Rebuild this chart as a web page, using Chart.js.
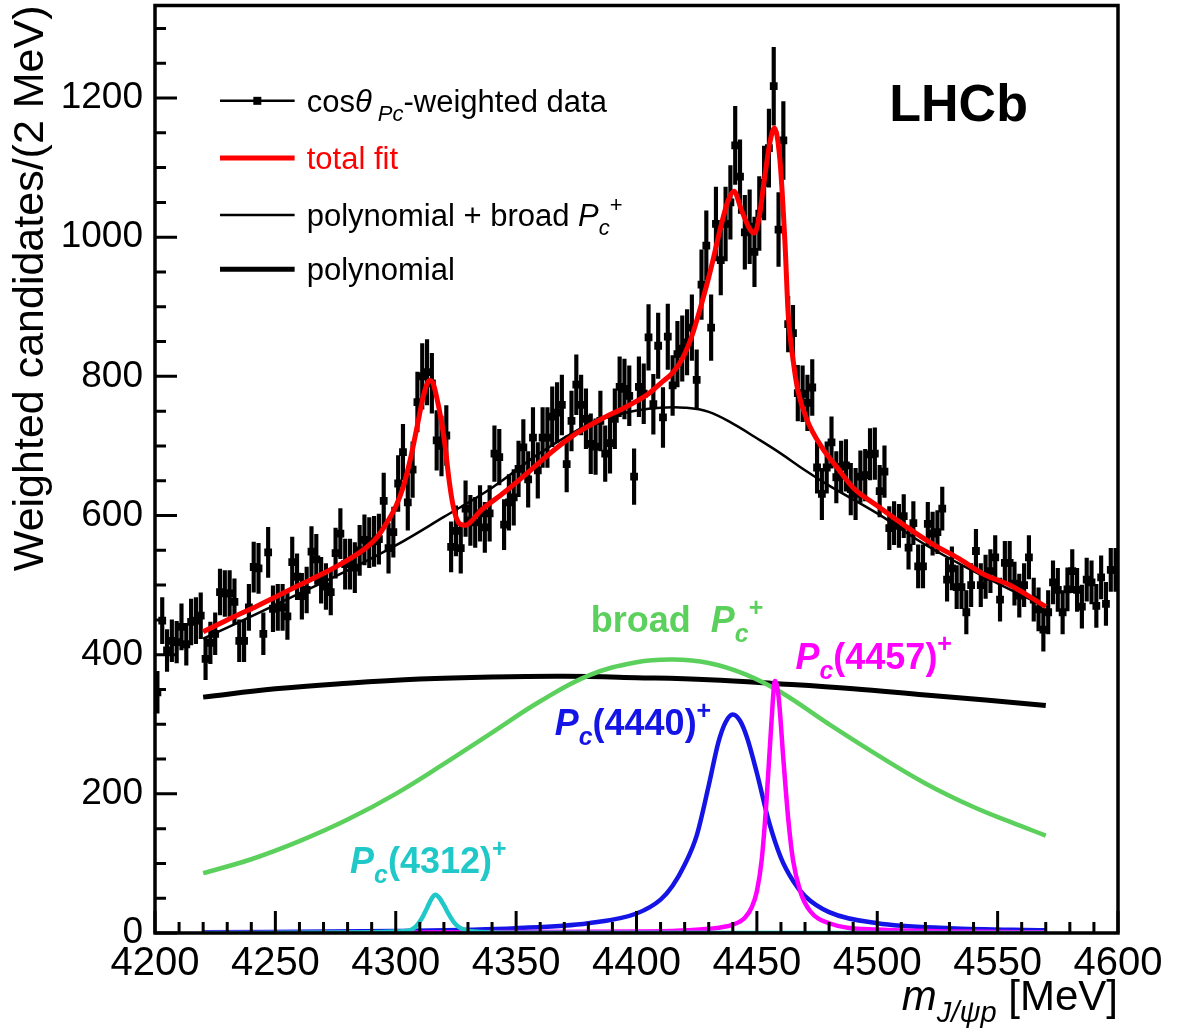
<!DOCTYPE html>
<html lang="en">
<head>
    <meta charset="UTF-8">
    <title>cos-weighted J/psi p mass spectrum</title>
    <script src="https://cdn.jsdelivr.net/npm/chart.js"></script>
    <style>
        html, body { margin: 0; padding: 0; background: #fff; }
        canvas { display: block; }
    </style>
</head>
<body>
    <canvas id="massChart" width="1182" height="1034"></canvas>

    <script>
        const FONT = '"Liberation Sans", Arial, Helvetica, sans-serif';

        // 2 MeV bins, 4200 - 4600 MeV
        const binLow = 4200;
        const binWidth = 2;
        const counts = [
            346, 449, 406, 420, 418, 440, 415, 447, 449, 456,
            394, 417, 430, 490, 488, 488, 476, 420, 420, 468,
            526, 524, 430, 547, 466, 468, 468, 455, 533, 512,
            484, 493, 548, 537, 507, 498, 490, 546, 574, 530,
            530, 525, 550, 565, 561, 563, 566, 621, 553, 576,
            646, 691, 619, 666, 763, 800, 806, 790, 708, 700,
            715, 555, 578, 553, 610, 593, 590, 603, 583, 603,
            689, 684, 587, 619, 626, 667, 698, 652, 712, 665,
            712, 712, 742, 748, 759, 674, 736, 788, 759, 739,
            703, 699, 736, 689, 704, 739, 785, 782, 772, 656,
            785, 775, 856, 760, 844, 741, 857, 787, 832, 840,
            849, 870, 795, 932, 988, 870, 1019, 967, 1019, 1050,
            1132, 1087, 1007, 1015, 979, 1034, 1078, 1128, 1217, 1011,
            1139, 875, 862, 776, 775, 762, 784, 669, 631, 669,
            705, 655, 670, 672, 638, 631, 656, 658, 688, 689,
            635, 663, 582, 589, 585, 599, 554, 589, 527, 527,
            588, 574, 576, 610, 508, 524, 497, 497, 461, 500,
            549, 500, 512, 520, 540, 479, 532, 532, 502, 485,
            500, 540, 479, 465, 436, 461, 504, 493, 461, 494,
            520, 493, 469, 508, 504, 470, 511, 473, 522, 522
        ];
        const errors = [
            30, 33, 30, 30, 30, 33, 30, 33, 33, 33,
            30, 30, 30, 33, 33, 33, 33, 30, 30, 33,
            36, 36, 30, 36, 33, 33, 33, 33, 36, 33,
            33, 33, 36, 36, 33, 33, 33, 36, 36, 36,
            36, 36, 36, 36, 36, 36, 36, 40, 36, 36,
            40, 40, 40, 40, 43, 47, 47, 43, 43, 43,
            43, 36, 36, 36, 40, 36, 36, 40, 36, 40,
            40, 40, 36, 40, 40, 40, 40, 40, 43, 40,
            43, 43, 43, 43, 43, 40, 43, 43, 43, 43,
            43, 40, 43, 40, 43, 43, 43, 43, 43, 40,
            43, 43, 47, 43, 47, 43, 47, 43, 47, 47,
            47, 47, 43, 50, 50, 47, 53, 50, 53, 53,
            56, 53, 53, 53, 50, 53, 53, 56, 56, 53,
            56, 40, 40, 40, 40, 40, 40, 37, 37, 37,
            37, 37, 37, 37, 37, 37, 37, 37, 37, 37,
            37, 37, 31, 31, 31, 31, 31, 31, 31, 31,
            31, 31, 31, 31, 31, 31, 31, 31, 31, 31,
            31, 31, 31, 31, 31, 31, 31, 31, 31, 31,
            31, 31, 31, 31, 31, 31, 31, 31, 31, 31,
            31, 31, 31, 31, 31, 31, 31, 31, 31, 31
        ];
        const binCentres = counts.map((_, i) => binLow + binWidth * (i + 0.5));

        // fit curves, sampled off the plot
        const fitMass = [4220, 4230, 4240, 4250, 4260, 4270, 4280, 4287, 4292, 4296, 4300, 4303, 4306, 4309, 4311.5, 4314, 4315.5, 4317, 4319, 4320.5, 4322, 4323.5, 4325, 4327, 4329, 4332, 4335, 4345, 4355, 4365, 4375, 4385, 4395, 4405, 4410, 4415, 4419, 4423, 4427, 4431, 4435, 4438, 4440.5, 4443.5, 4447, 4449, 4451, 4453, 4455.5, 4457.3, 4459.6, 4461.7, 4463, 4465, 4467, 4471, 4477, 4484, 4490, 4500, 4512, 4523, 4534, 4544, 4555, 4570];
        const fitYield = [433, 450, 466, 483, 500, 517, 536, 552, 568, 588, 613, 640, 680, 730, 772, 794, 790, 770, 735, 700, 655, 620, 598, 587, 586, 594, 606, 633, 662, 692, 718, 738, 755, 775, 790, 805, 825, 858, 904, 956, 1015, 1052, 1066, 1040, 1012, 1006, 1030, 1080, 1138, 1157, 1110, 990, 890, 825, 780, 736, 698, 666, 640, 614, 584, 559, 538, 516, 500, 469];

        const polyBroadMass = [4220, 4240, 4260, 4280, 4300, 4320, 4340, 4360, 4380, 4390, 4400, 4410, 4420, 4430, 4440, 4450, 4460, 4470, 4480, 4500, 4520, 4540, 4555, 4570];
        const polyBroadYield = [423, 455, 488, 521, 557, 598, 640, 690, 731, 743, 751, 755, 755, 749, 732, 711, 689, 665, 643, 603, 558, 520, 494, 469];

        const polyMass = [4220, 4250, 4280, 4310, 4340, 4370, 4400, 4430, 4460, 4490, 4520, 4545, 4570];
        const polyYield = [339, 351, 359, 365, 368, 369, 367, 364, 358, 351, 342, 335, 327];

        const broadMass = [4220, 4240, 4260, 4280, 4300, 4320, 4340, 4360, 4380, 4400, 4415, 4430, 4445, 4460, 4480, 4500, 4520, 4540, 4555, 4570];
        const broadYield = [86, 106, 132, 163, 200, 243, 288, 333, 370, 389, 393, 388, 372, 346, 300, 256, 215, 181, 160, 140];

        const pc4312Mass = [4220, 4290, 4300, 4306, 4309, 4311, 4313, 4315, 4316.5, 4318, 4320, 4322, 4324, 4326, 4329, 4335, 4350, 4570];
        const pc4312Yield = [0, 1, 2, 4, 12, 22, 36, 50, 55, 51, 40, 27, 16, 9, 4, 1.5, 0.5, 0];

        const pc4440Mass = [4220, 4300, 4350, 4380, 4400, 4410, 4415, 4420, 4425, 4430, 4434, 4437, 4440, 4443, 4446, 4450, 4455, 4460, 4465, 4470, 4480, 4500, 4530, 4570];
        const pc4440Yield = [1, 3, 7, 14, 28, 48, 68, 98, 140, 212, 274, 303, 314, 305, 280, 230, 160, 108, 75, 53, 30, 14, 7, 4];

        const pc4457Mass = [4220, 4400, 4430, 4440, 4445, 4448, 4450, 4452, 4454, 4456, 4457.5, 4459, 4461, 4463, 4465, 4468, 4472, 4480, 4500, 4570];
        const pc4457Yield = [0, 2, 6, 12, 22, 38, 60, 105, 190, 300, 362, 340, 250, 165, 105, 60, 32, 14, 5, 1];

        const xTicks = [4200, 4250, 4300, 4350, 4400, 4450, 4500, 4550, 4600];
        const yTicks = [0, 200, 400, 600, 800, 1000, 1200];

        Chart.defaults.font.family = FONT;
        Chart.defaults.color = '#000';

        function curve(xs, ys, color, width, smooth) {
            const ds = {
                type: 'line',
                data: xs.map((x, i) => ({ x: x, y: ys[i] })),
                borderColor: color,
                borderWidth: width,
                pointRadius: 0,
                fill: false,
                borderJoinStyle: 'round'
            };
            if (smooth) {
                ds.tension = 0.4;
            } else {
                ds.cubicInterpolationMode = 'monotone';
            }
            return ds;
        }

        // text with italics, sub- and superscripts
        function drawRich(ctx, x, y, parts, size, bold, color, align) {
            const segs = parts.map(([t, st]) => {
                const small = st.includes('s') || st.includes('p');
                const sz = small ? Math.round(size * 0.7) : size;
                const font = (st.includes('i') ? 'italic ' : '') + (bold ? 'bold ' : '') + sz + 'px ' + FONT;
                ctx.font = font;
                const dy = st.includes('s') ? size * 0.28 : (st.includes('p') ? -size * 0.45 : 0);
                return { t: t, font: font, dy: dy, w: ctx.measureText(t).width };
            });
            let cx = align === 'right' ? x - segs.reduce((s, g) => s + g.w, 0) : x;
            ctx.fillStyle = color;
            ctx.textAlign = 'left';
            ctx.textBaseline = 'alphabetic';
            for (const g of segs) {
                ctx.font = g.font;
                ctx.fillText(g.t, cx, y + g.dy);
                cx += g.w;
            }
        }

        const legendRows = [
            { y: 1196, color: '#000', width: 2.5, marker: true, parts: [['cos', ''], ['\u03B8', 'i'], [' Pc', 'is'], ['-weighted data', '']] },
            { y: 1114, color: '#ff0000', width: 5, parts: [['total fit', '']] },
            { y: 1032, color: '#000', width: 2.5, parts: [['polynomial + broad ', ''], ['P', 'i'], ['c', 'is'], ['+', 'p']] },
            { y: 954, color: '#000', width: 5, parts: [['polynomial', '']] }
        ];

        const peakNotes = [
            { x: 4381, y: 432, color: '#5cd05c', parts: [['broad  ', ''], ['P', 'i'], ['c', 'is'], ['+', 'p']] },
            { x: 4466, y: 380, color: '#ff00ff', parts: [['P', 'i'], ['c', 'is'], ['(4457)', ''], ['+', 'p']] },
            { x: 4366, y: 284, color: '#1414e6', parts: [['P', 'i'], ['c', 'is'], ['(4440)', ''], ['+', 'p']] },
            { x: 4281, y: 86, color: '#20c8c8', parts: [['P', 'i'], ['c', 'is'], ['(4312)', ''], ['+', 'p']] }
        ];

        const decorations = {
            id: 'decorations',
            afterDraw(chart) {
                const { ctx, chartArea: a, scales: { x, y } } = chart;
                ctx.save();

                // inside tick marks
                ctx.strokeStyle = '#000';
                ctx.lineWidth = 3;
                ctx.beginPath();
                for (let v = 4200; v <= 4600; v += 10) {
                    const px = x.getPixelForValue(v);
                    const len = v % 50 === 0 ? 22 : 11;
                    ctx.moveTo(px, a.bottom);
                    ctx.lineTo(px, a.bottom - len);
                }
                for (let v = 0; v <= y.max; v += 50) {
                    const py = y.getPixelForValue(v);
                    const len = v % 200 === 0 ? 22 : 11;
                    ctx.moveTo(a.left, py);
                    ctx.lineTo(a.left + len, py);
                }
                ctx.stroke();

                // frame
                ctx.lineWidth = 3.5;
                ctx.strokeRect(a.left, a.top, a.right - a.left, a.bottom - a.top);

                // legend
                const lx0 = x.getPixelForValue(4227);
                const lx1 = x.getPixelForValue(4258);
                const tx = x.getPixelForValue(4263);
                for (const row of legendRows) {
                    const py = y.getPixelForValue(row.y);
                    ctx.strokeStyle = row.color;
                    ctx.lineWidth = row.width;
                    ctx.beginPath();
                    ctx.moveTo(lx0, py);
                    ctx.lineTo(lx1, py);
                    ctx.stroke();
                    if (row.marker) {
                        ctx.fillStyle = '#000';
                        ctx.fillRect((lx0 + lx1) / 2 - 4, py - 4, 8, 8);
                    }
                    drawRich(ctx, tx, py + 11, row.parts, 31, false, row.color, 'left');
                }

                // experiment label
                drawRich(ctx, x.getPixelForValue(4505), y.getPixelForValue(1167), [['LHCb', '']], 52, true, '#000', 'left');

                // resonance labels
                for (const n of peakNotes) {
                    drawRich(ctx, x.getPixelForValue(n.x), y.getPixelForValue(n.y), n.parts, 36, true, n.color, 'left');
                }

                // x axis title
                drawRich(ctx, a.right, 1010, [['m', 'i'], ['J/\u03C8p', 'is'], [' [MeV]', '']], 42, false, '#000', 'right');

                ctx.restore();
            }
        };

        new Chart(document.getElementById('massChart'), {
            type: 'scatter',
            data: {
                datasets: [
                    curve(fitMass, fitYield, '#ff0000', 5, false),
                    curve(pc4312Mass, pc4312Yield, '#20c8c8', 4.5, false),
                    curve(pc4457Mass, pc4457Yield, '#ff00ff', 4.5, false),
                    curve(pc4440Mass, pc4440Yield, '#1414e6', 4.5, false),
                    curve(broadMass, broadYield, '#5cd05c', 4.5, true),
                    curve(polyBroadMass, polyBroadYield, '#000', 2.5, true),
                    curve(polyMass, polyYield, '#000', 5, true),
                    {
                        type: 'scatter',
                        data: binCentres.map((m, i) => ({ x: m, y: counts[i] })),
                        pointStyle: 'rect',
                        pointRadius: 5.5,
                        backgroundColor: '#000',
                        borderWidth: 0
                    },
                    {
                        type: 'bar',
                        data: binCentres.map((m, i) => ({ x: m, y: [counts[i] - errors[i], counts[i] + errors[i]] })),
                        backgroundColor: '#000',
                        borderWidth: 0,
                        barThickness: 3.5
                    }
                ]
            },
            options: {
                responsive: false,
                animation: false,
                events: [],
                layout: { padding: { left: 0, top: 5, right: 64, bottom: 0 } },
                plugins: { legend: { display: false }, tooltip: { enabled: false } },
                scales: {
                    x: {
                        type: 'linear',
                        min: 4200,
                        max: 4600,
                        offset: false,
                        grid: { display: false, drawTicks: false },
                        border: { display: false },
                        ticks: { font: { size: 40 }, color: '#000', padding: 7, maxRotation: 0, autoSkip: false, callback: v => String(v) },
                        afterBuildTicks: s => { s.ticks = xTicks.map(v => ({ value: v })); },
                        afterFit: s => { s.height = 101; s.paddingLeft = 0; s.paddingRight = 0; }
                    },
                    y: {
                        type: 'linear',
                        min: 0,
                        max: 1333,
                        grid: { display: false, drawTicks: false },
                        border: { display: false },
                        ticks: { font: { size: 37 }, color: '#000', padding: 12, callback: v => String(v) },
                        title: {
                            display: true,
                            text: 'Weighted candidates/(2 MeV)',
                            align: 'end',
                            color: '#000',
                            font: { size: 43 },
                            padding: { top: 5, bottom: 0 }
                        },
                        afterBuildTicks: s => { s.ticks = yTicks.map(v => ({ value: v })); },
                        afterFit: s => { s.width = 155; s.paddingTop = 0; s.paddingBottom = 0; }
                    }
                }
            },
            plugins: [decorations]
        });
    </script>
</body>
</html>
